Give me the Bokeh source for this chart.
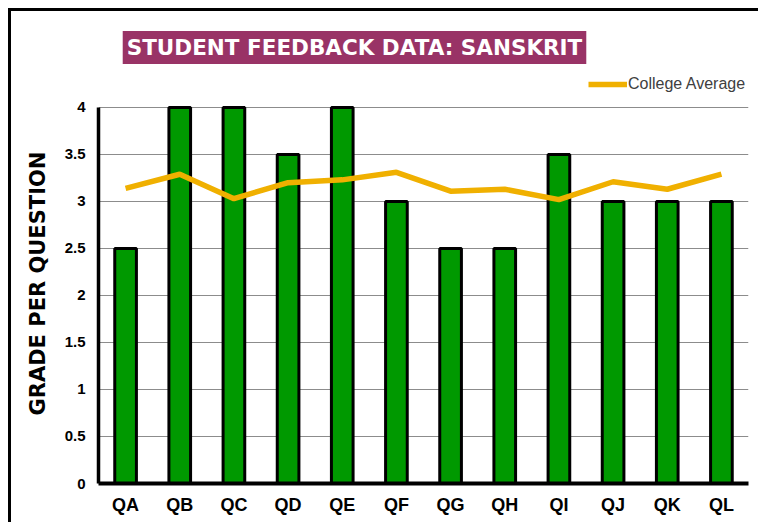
from bokeh.plotting import figure
from bokeh.models import ColumnDataSource, Label, Legend, LegendItem, FactorRange, Range1d, FixedTicker, Title
from bokeh.embed import file_html
from bokeh.resources import INLINE

questions = ["QA", "QB", "QC", "QD", "QE", "QF", "QG", "QH", "QI", "QJ", "QK", "QL"]
sanskrit_grades = [2.5, 4, 4, 3.5, 4, 3, 2.5, 2.5, 3.5, 3, 3, 3]
college_average = [3.14, 3.29, 3.03, 3.20, 3.23, 3.31, 3.11, 3.13, 3.02, 3.21, 3.13, 3.29]
y_ticks = [0, 0.5, 1, 1.5, 2, 2.5, 3, 3.5, 4]
y_tick_labels = {0: "0", 0.5: "0.5", 1: "1", 1.5: "1.5", 2: "2", 2.5: "2.5", 3: "3", 3.5: "3.5", 4: "4"}

src = ColumnDataSource(dict(q=questions, grade=sanskrit_grades, avg=college_average))

# frame reaches the top of the canvas so the title box and legend are not clipped
p = figure(width=750, height=514, x_range=FactorRange(*questions), y_range=Range1d(0, 5.021),
           output_backend="svg", toolbar_location=None,
           min_border_left=87, min_border_right=13, min_border_top=0, min_border_bottom=42)
# outer chart frame (left and top edges) drawn as an offset shadow outside the canvas
p.styles = {"margin-left": "11px", "margin-top": "11px", "box-shadow": "-3px -3px 0 0 #000"}
p.outline_line_color = None
p.background_fill_color = "white"
p.border_fill_color = "white"
p.x_range.range_padding = 0
p.x_range.group_padding = 0

p.vbar(x="q", top="grade", width=0.40, source=src, fill_color="#009900",
       line_color="black", line_width=3)
r_line = p.line(x="q", y="avg", source=src, line_color="#F0B000", line_width=5.5)

# axes
p.xgrid.grid_line_color = None
p.ygrid.grid_line_color = "#8c8c8c"
p.ygrid.grid_line_width = 1
p.ygrid.ticker = FixedTicker(ticks=y_ticks)

p.yaxis.ticker = FixedTicker(ticks=y_ticks)
p.yaxis.major_label_overrides = y_tick_labels
p.yaxis.bounds = (0, 4)
p.yaxis.axis_line_color = "black"
p.yaxis.axis_line_width = 3.5
p.yaxis.major_tick_line_color = None
p.yaxis.minor_tick_line_color = None
p.yaxis.major_tick_out = 0
p.yaxis.major_label_standoff = 13
p.yaxis.major_label_text_font = "Liberation Sans"
p.yaxis.major_label_text_font_style = "bold"
p.yaxis.major_label_text_font_size = "15px"
p.yaxis.major_label_text_color = "black"

# y axis title, starting above the bottom of the frame
ytitle = Title(text="GRADE PER QUESTION", align="left", offset=68, standoff=23,
               text_font="DejaVu Sans", text_font_style="bold", text_font_size="21px",
               text_color="black")
p.add_layout(ytitle, "left")

p.xaxis.axis_line_color = "black"
p.xaxis.axis_line_width = 4
p.xaxis.major_tick_line_color = None
p.xaxis.minor_tick_line_color = None
p.xaxis.major_tick_out = 0
p.xaxis.major_label_standoff = 11
p.xaxis.major_label_text_font = "Liberation Sans"
p.xaxis.major_label_text_font_style = "bold"
p.xaxis.major_label_text_font_size = "18px"
p.xaxis.major_label_text_color = "black"

# legend
legend = Legend(items=[LegendItem(label="College Average", renderers=[r_line])],
                location=(490, 390), orientation="horizontal",
                padding=0, margin=0, spacing=0, border_line_color=None,
                background_fill_alpha=0, glyph_width=39, glyph_height=16, label_height=16,
                label_standoff=1, label_text_font="Liberation Sans", label_text_font_size="16px",
                label_text_color="#404040")
p.add_layout(legend, "center")

# title box
title = Label(x=256, y=436, x_units="screen", y_units="screen", text="STUDENT FEEDBACK DATA: SANSKRIT",
              text_align="center", text_baseline="middle", text_font="DejaVu Sans", text_font_style="bold",
              text_font_size="21.5px", text_color="white", background_fill_color="#993366",
              padding=(4, 4))
p.add_layout(title)

html = file_html(p, INLINE)
html = html.replace("</head>", "<style>html, body { overflow: hidden; }</style></head>", 1)
open("out.html", "w").write(html)
